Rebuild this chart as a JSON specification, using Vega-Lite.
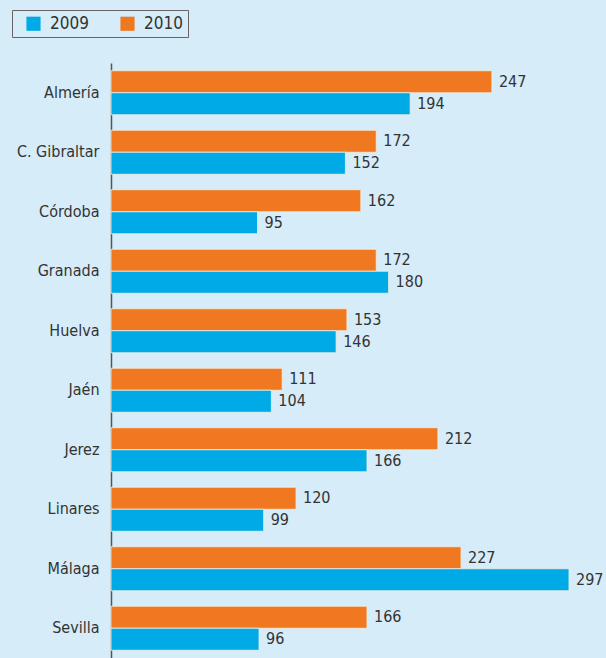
{
  "$schema": "https://vega.github.io/schema/vega-lite/v6.json",
  "width": 495,
  "height": 595,
  "autosize": {"type": "none"},
  "padding": {"left": 111, "top": 63, "right": 0, "bottom": 0},
  "background": "#d6ecf8",
  "config": {"view": {"stroke": null}, "font": "DejaVu Sans Condensed, Roboto, sans-serif"},
  "data": {"values": [
    {"city": "Almería", "year": "2010", "value": 247},
    {"city": "Almería", "year": "2009", "value": 194},
    {"city": "C. Gibraltar", "year": "2010", "value": 172},
    {"city": "C. Gibraltar", "year": "2009", "value": 152},
    {"city": "Córdoba", "year": "2010", "value": 162},
    {"city": "Córdoba", "year": "2009", "value": 95},
    {"city": "Granada", "year": "2010", "value": 172},
    {"city": "Granada", "year": "2009", "value": 180},
    {"city": "Huelva", "year": "2010", "value": 153},
    {"city": "Huelva", "year": "2009", "value": 146},
    {"city": "Jaén", "year": "2010", "value": 111},
    {"city": "Jaén", "year": "2009", "value": 104},
    {"city": "Jerez", "year": "2010", "value": 212},
    {"city": "Jerez", "year": "2009", "value": 166},
    {"city": "Linares", "year": "2010", "value": 120},
    {"city": "Linares", "year": "2009", "value": 99},
    {"city": "Málaga", "year": "2010", "value": 227},
    {"city": "Málaga", "year": "2009", "value": 297},
    {"city": "Sevilla", "year": "2010", "value": 166},
    {"city": "Sevilla", "year": "2009", "value": 96}
  ]},
  "encoding": {
    "y": {
      "field": "city", "type": "nominal", "sort": null,
      "scale": {"paddingInner": 0.26, "paddingOuter": 0.13},
      "axis": {"title": null, "ticks": false, "labelFontSize": 16, "labelColor": "#333", "labelPadding": 12, "domainColor": "#555", "domainWidth": 1.5}
    },
    "yOffset": {"field": "year", "type": "nominal", "sort": ["2010", "2009"], "scale": {"paddingInner": 0, "paddingOuter": 0}},
    "x": {"field": "value", "type": "quantitative", "scale": {"domain": [0, 321], "nice": false}, "axis": null}
  },
  "layer": [
    {
      "mark": {"type": "bar", "stroke": "#f4efe0", "strokeWidth": 0.8},
      "encoding": {
        "color": {
          "field": "year", "type": "nominal",
          "scale": {"domain": ["2009", "2010"], "range": ["#00aae6", "#f07820"]},
          "legend": {
            "title": null, "orient": "none", "direction": "horizontal",
            "legendX": -99, "legendY": -53,
            "symbolType": "square", "symbolSize": 200, "symbolStrokeWidth": 0, "symbolOffset": 8,
            "labelFontSize": 17, "labelColor": "#333", "labelOffset": 8, "columnPadding": 22,
            "strokeColor": "#666", "padding": 5
          }
        }
      }
    },
    {
      "mark": {"type": "text", "align": "left", "dx": 7, "fontSize": 16, "color": "#333"},
      "encoding": {"text": {"field": "value", "type": "quantitative"}}
    }
  ]
}
